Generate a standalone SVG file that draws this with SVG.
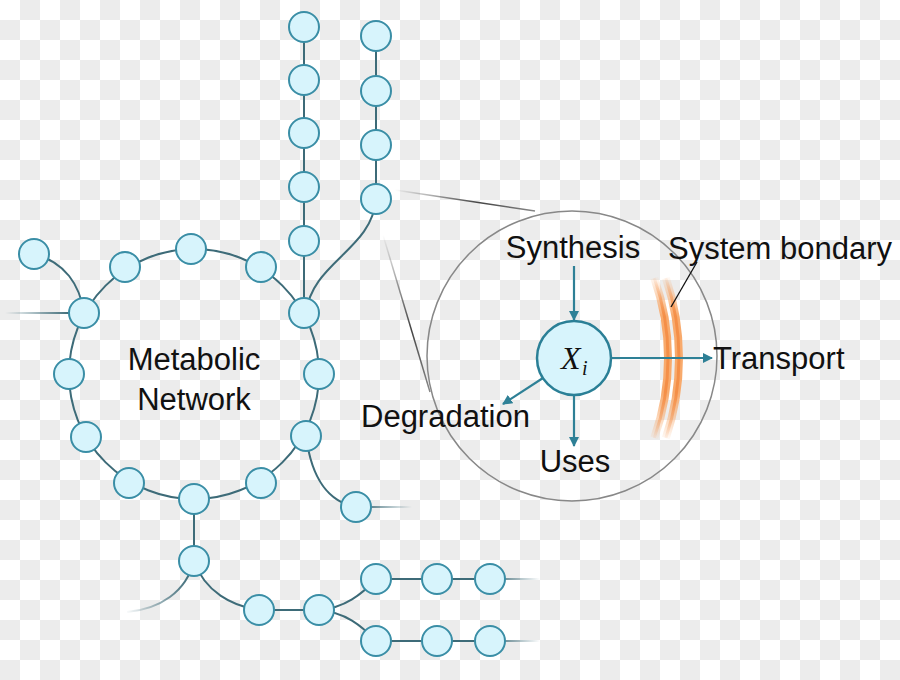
<svg xmlns="http://www.w3.org/2000/svg" width="900" height="680" viewBox="0 0 900 680">
<defs>
<pattern id="chk" width="40" height="40" patternUnits="userSpaceOnUse">
<rect width="40" height="40" fill="#ffffff"/>
<rect x="20" y="0" width="20" height="20" fill="#ececec"/>
<rect x="0" y="20" width="20" height="20" fill="#ececec"/>
</pattern>
<linearGradient id="fadeL" gradientUnits="userSpaceOnUse" x1="5" y1="0" x2="70" y2="0">
<stop offset="0" stop-color="#3d6b78" stop-opacity="0"/><stop offset="1" stop-color="#3d6b78"/>
</linearGradient>
<linearGradient id="fadeR1" gradientUnits="userSpaceOnUse" x1="360" y1="0" x2="412" y2="0">
<stop offset="0" stop-color="#3d6b78"/><stop offset="1" stop-color="#3d6b78" stop-opacity="0"/>
</linearGradient>
<linearGradient id="fadeR2" gradientUnits="userSpaceOnUse" x1="490" y1="0" x2="540" y2="0">
<stop offset="0" stop-color="#3d6b78"/><stop offset="1" stop-color="#3d6b78" stop-opacity="0"/>
</linearGradient>
<linearGradient id="fadeBL" gradientUnits="userSpaceOnUse" x1="125" y1="0" x2="190" y2="0">
<stop offset="0" stop-color="#3d6b78" stop-opacity="0"/><stop offset="1" stop-color="#3d6b78"/>
</linearGradient>
<linearGradient id="mag1" gradientUnits="userSpaceOnUse" x1="395" y1="0" x2="535" y2="0">
<stop offset="0" stop-color="#444" stop-opacity="0"/><stop offset="0.6" stop-color="#444"/><stop offset="1" stop-color="#888"/>
</linearGradient>
<linearGradient id="mag2" gradientUnits="userSpaceOnUse" x1="0" y1="235" x2="0" y2="392">
<stop offset="0" stop-color="#444" stop-opacity="0"/><stop offset="0.6" stop-color="#444"/><stop offset="1" stop-color="#888"/>
</linearGradient>
<linearGradient id="orng" gradientUnits="userSpaceOnUse" x1="0" y1="275" x2="0" y2="442">
<stop offset="0" stop-color="#f8aa6c" stop-opacity="0"/><stop offset="0.25" stop-color="#f8aa6c"/><stop offset="0.7" stop-color="#f8aa6c"/><stop offset="1" stop-color="#f8aa6c" stop-opacity="0"/>
</linearGradient>
<linearGradient id="orng2" gradientUnits="userSpaceOnUse" x1="0" y1="275" x2="0" y2="442">
<stop offset="0" stop-color="#f48f48" stop-opacity="0"/><stop offset="0.25" stop-color="#f48f48"/><stop offset="0.7" stop-color="#f48f48"/><stop offset="1" stop-color="#f48f48" stop-opacity="0"/>
</linearGradient>
<marker id="arr" viewBox="0 0 10 10" refX="9" refY="5" markerWidth="10" markerHeight="10" markerUnits="userSpaceOnUse" orient="auto">
<path d="M0,0 L10,5 L0,10 Z" fill="#2e8096"/>
</marker>
<style>
.n{fill:#d7f4fc;stroke:#3a8ea6;stroke-width:2}
.c{fill:none;stroke:#3d6b78;stroke-width:2}
.a{fill:none;stroke:#2e8096;stroke-width:2.2;marker-end:url(#arr)}
.t{font-family:"Liberation Sans",Arial,sans-serif;font-size:31px;fill:#111}
</style>
</defs>
<rect width="900" height="680" fill="url(#chk)"/>

<g id="magnifier">
<line x1="395" y1="190" x2="535" y2="211" stroke="url(#mag1)" stroke-width="1.5"/>
<line x1="383" y1="235" x2="430" y2="392" stroke="url(#mag2)" stroke-width="1.5"/>
<circle cx="572" cy="356" r="145" fill="none" stroke="#888" stroke-width="1.5"/>
</g>

<g id="connectors">
<circle class="c" cx="194" cy="374" r="125"/>
<line class="c" x1="304" y1="27" x2="304" y2="313"/>
<line class="c" x1="376" y1="36" x2="376" y2="199"/>
<path class="c" d="M376,199 C372,250 312,262 306,313"/>
<path class="c" d="M34,254 C65,262 80,285 84,313"/>
<line x1="5" y1="313" x2="84" y2="313" stroke="url(#fadeL)" stroke-width="2"/>
<path class="c" d="M306,436 C312,482 330,502 356,507"/>
<line x1="356" y1="507" x2="412" y2="507" stroke="url(#fadeR1)" stroke-width="2"/>
<line class="c" x1="194" y1="500" x2="194" y2="561"/>
<path d="M194,561 C186,592 160,609 127,612" fill="none" stroke="url(#fadeBL)" stroke-width="2"/>
<path class="c" d="M194,561 C205,592 232,606 259,610"/>
<line class="c" x1="259" y1="610" x2="319" y2="610"/>
<path class="c" d="M319,610 C345,608 362,594 376,579"/>
<path class="c" d="M319,610 C345,612 362,626 376,641"/>
<line class="c" x1="376" y1="579" x2="490" y2="579"/>
<line class="c" x1="376" y1="641" x2="490" y2="641"/>
<line x1="490" y1="579" x2="540" y2="579" stroke="url(#fadeR2)" stroke-width="2"/>
<line x1="490" y1="641" x2="540" y2="641" stroke="url(#fadeR2)" stroke-width="2"/>
</g>

<g id="nodes">
<circle class="n" cx="304" cy="27" r="15"/>
<circle class="n" cx="304" cy="80" r="15"/>
<circle class="n" cx="304" cy="133" r="15"/>
<circle class="n" cx="304" cy="187" r="15"/>
<circle class="n" cx="304" cy="241" r="15"/>
<circle class="n" cx="376" cy="36" r="15"/>
<circle class="n" cx="376" cy="91" r="15"/>
<circle class="n" cx="376" cy="145" r="15"/>
<circle class="n" cx="376" cy="199" r="15"/>
<circle class="n" cx="34" cy="254" r="15"/>
<circle class="n" cx="84" cy="313" r="15"/>
<circle class="n" cx="125" cy="267" r="15"/>
<circle class="n" cx="191" cy="249" r="15"/>
<circle class="n" cx="261" cy="267" r="15"/>
<circle class="n" cx="304" cy="313" r="15"/>
<circle class="n" cx="319" cy="374" r="15"/>
<circle class="n" cx="306" cy="436" r="15"/>
<circle class="n" cx="261" cy="483" r="15"/>
<circle class="n" cx="194" cy="499" r="15"/>
<circle class="n" cx="129" cy="483" r="15"/>
<circle class="n" cx="86" cy="437" r="15"/>
<circle class="n" cx="69" cy="374" r="15"/>
<circle class="n" cx="356" cy="507" r="15"/>
<circle class="n" cx="194" cy="561" r="15"/>
<circle class="n" cx="259" cy="610" r="15"/>
<circle class="n" cx="319" cy="610" r="15"/>
<circle class="n" cx="376" cy="579" r="15"/>
<circle class="n" cx="437" cy="579" r="15"/>
<circle class="n" cx="490" cy="579" r="15"/>
<circle class="n" cx="376" cy="641" r="15"/>
<circle class="n" cx="437" cy="641" r="15"/>
<circle class="n" cx="490" cy="641" r="15"/>
</g>

<g id="network-label">
<text class="t" x="194" y="370" text-anchor="middle">Metabolic</text>
<text class="t" x="194" y="410" text-anchor="middle">Network</text>
</g>

<g id="boundary">
<path d="M654.3,278 A240,240 0 0 1 654.3,438" fill="none" stroke="url(#orng)" stroke-width="8"/>
<path d="M665.9,278 A251,251 0 0 1 665.9,438" fill="none" stroke="url(#orng)" stroke-width="8"/>
<path d="M654.3,278 A240,240 0 0 1 654.3,438" fill="none" stroke="url(#orng2)" stroke-width="3"/>
<path d="M665.9,278 A251,251 0 0 1 665.9,438" fill="none" stroke="url(#orng2)" stroke-width="3"/>
<line x1="697" y1="262" x2="671" y2="307" stroke="#111" stroke-width="1.3"/>
<text class="t" x="668" y="259">System bondary</text>
</g>

<g id="arrows">
<line class="a" x1="574" y1="266" x2="574" y2="320"/>
<line class="a" x1="611" y1="358" x2="712" y2="358"/>
<line class="a" x1="574" y1="395" x2="574" y2="446"/>
<line class="a" x1="543" y1="378" x2="503" y2="404"/>
</g>

<g id="xi">
<circle cx="574" cy="358" r="37" fill="#d7f4fc" stroke="#2a7f96" stroke-width="2.5"/>
<text x="561" y="369" font-family="'Liberation Serif',serif" font-style="italic" font-size="32" fill="#111">X</text>
<text x="582" y="375" font-family="'Liberation Serif',serif" font-style="italic" font-size="20" fill="#111">i</text>
</g>

<g id="labels">
<text class="t" x="573" y="258" text-anchor="middle">Synthesis</text>
<text class="t" x="713" y="369">Transport</text>
<text class="t" x="361" y="427">Degradation</text>
<text class="t" x="575" y="472" text-anchor="middle">Uses</text>
</g>
</svg>
